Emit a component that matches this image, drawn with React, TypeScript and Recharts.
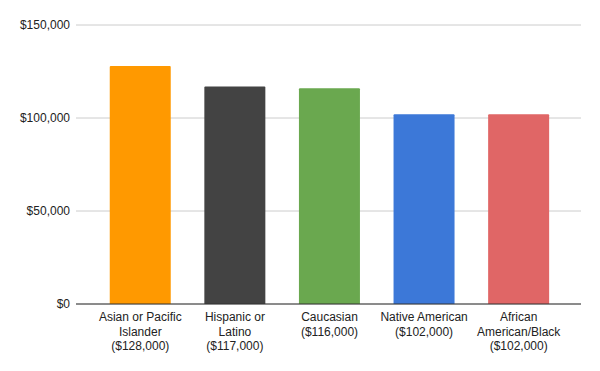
import { BarChart, Bar, XAxis, YAxis, CartesianGrid, Cell } from 'recharts';

const categories = [
  ['Asian or Pacific', 'Islander'],
  ['Hispanic or', 'Latino'],
  ['Caucasian'],
  ['Native American'],
  ['African', 'American/Black'],
];
const salaries = [128000, 117000, 116000, 102000, 102000];
const barColors = ['#FF9900', '#434343', '#6AA84F', '#3C78D8', '#E06666'];
const yTicks = [0, 50000, 100000, 150000];

const money = (v: number) => '$' + v.toLocaleString('en-US');

const data = categories.map((lines, i) => ({
  name: lines.join(' '),
  lines: [...lines, `(${money(salaries[i])})`],
  value: salaries[i],
}));

const CategoryTick = ({ x, y, index }: any) => {
  const lines = data[index]?.lines || [];
  return (
    <text x={x} y={y} textAnchor="middle" fill="#222" fontSize={12} fontFamily="Arial, 'Liberation Sans', sans-serif">
      {lines.map((line: string, i: number) => (
        <tspan key={i} x={x} dy={i === 0 ? 9 : 14.5}>
          {line}
        </tspan>
      ))}
    </text>
  );
};

export default function App() {
  return (
    <div style={{ position: 'absolute', left: 0, top: 0, width: 600, height: 371, background: '#fff' }}>
      <BarChart
        width={600}
        height={371}
        data={data}
        margin={{ top: 25, right: 19, left: 0, bottom: 0 }}
        barCategoryGap="17.7%"
      >
        <CartesianGrid vertical={false} stroke="#cccccc" />
        <XAxis
          dataKey="name"
          height={67}
          interval={0}
          padding={{ left: 17, right: 15 }}
          tickLine={false}
          axisLine={{ stroke: '#333333' }}
          tick={<CategoryTick />}
        />
        <YAxis
          width={76}
          domain={[0, 150000]}
          ticks={yTicks}
          tickFormatter={money}
          axisLine={false}
          tickLine={false}
          tickSize={0}
          tickMargin={6}
          tick={{ fill: '#222', fontSize: 12, fontFamily: "Arial, 'Liberation Sans', sans-serif" }}
        />
        <Bar dataKey="value" isAnimationActive={false} radius={[1, 1, 0, 0]}>
          {data.map((entry, index) => (
            <Cell key={`cell-${index}`} fill={barColors[index]} />
          ))}
        </Bar>
      </BarChart>
    </div>
  );
}
